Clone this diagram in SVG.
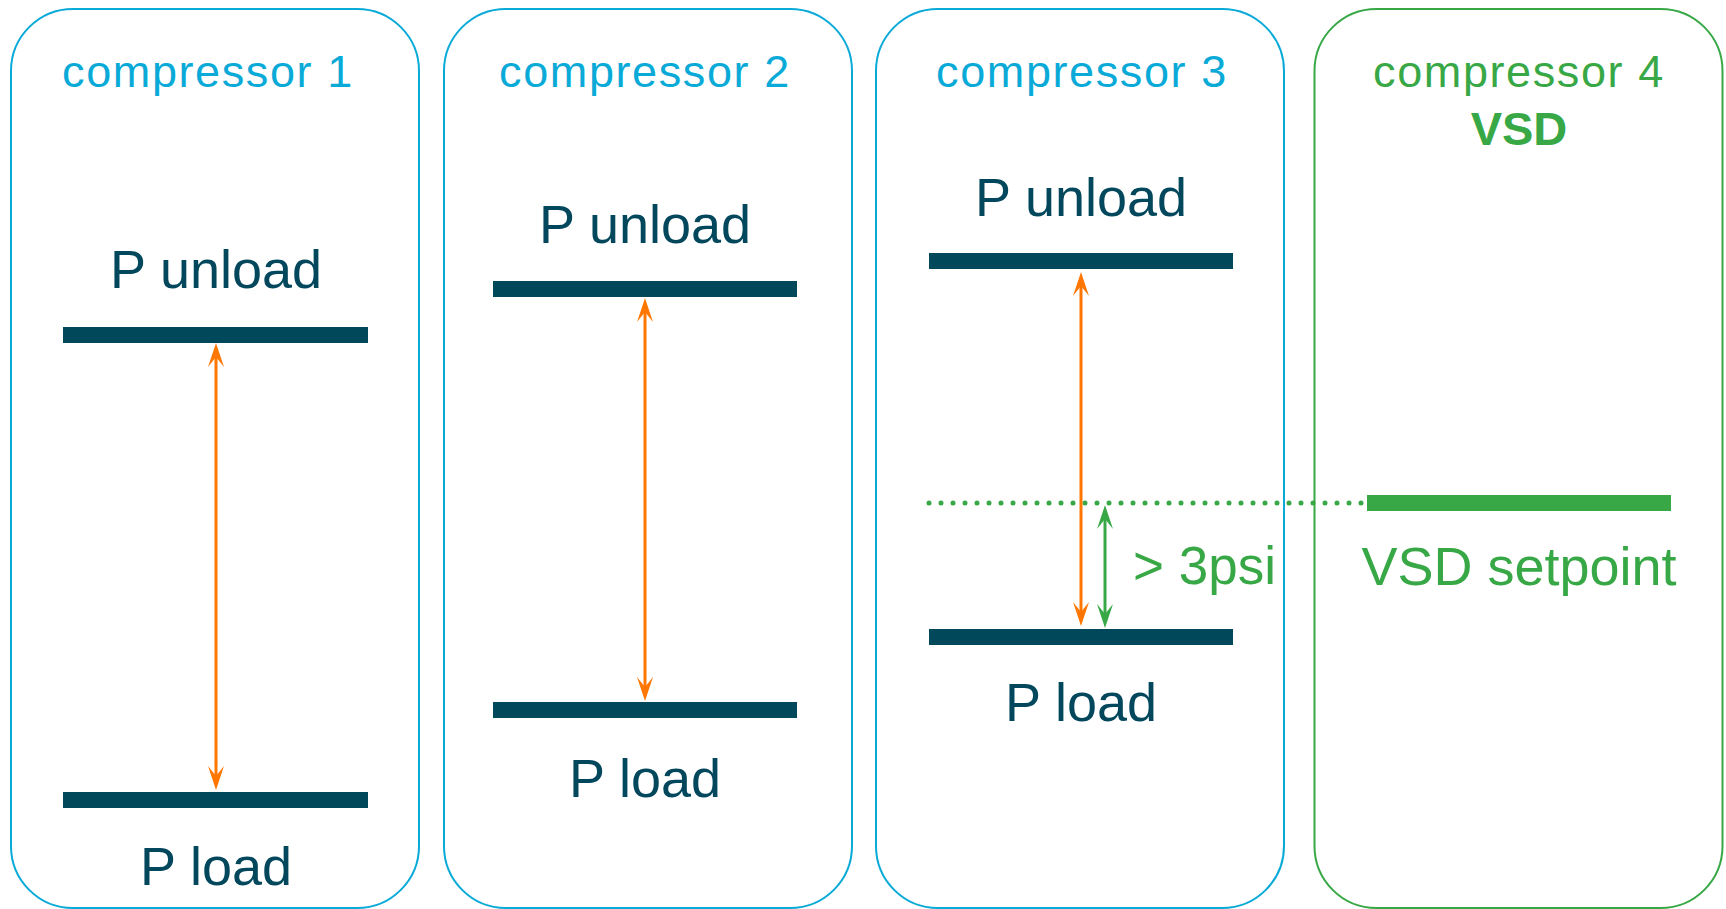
<svg xmlns="http://www.w3.org/2000/svg" width="1726" height="909" viewBox="0 0 1726 909">
<style>
.box{fill:#fff;stroke-width:2}
.blue{stroke:#0AAAD8}
.green{stroke:#38A846}
.title{font-family:"Liberation Sans",Arial,sans-serif;font-size:45px;letter-spacing:1.6px;text-anchor:middle}
.big{font-family:"Liberation Sans",Arial,sans-serif;font-size:54px;text-anchor:middle;fill:#02475C}
.bar{fill:#02485B}
.oline{stroke:#FF7700;stroke-width:3;fill:none}
.gline{stroke:#38A846;stroke-width:3;fill:none}
</style>
<defs>
<marker id="ao" viewBox="0 -8 24 16" refX="10" refY="0" markerWidth="24" markerHeight="16" markerUnits="userSpaceOnUse" orient="auto-start-reverse">
<path d="M0,-8 L24,0 L0,8 L10,0 Z" fill="#FF7700"/>
</marker>
<marker id="ag" viewBox="0 -8 24 16" refX="10" refY="0" markerWidth="24" markerHeight="16" markerUnits="userSpaceOnUse" orient="auto-start-reverse">
<path d="M0,-8 L24,0 L0,8 L10,0 Z" fill="#38A846"/>
</marker>
</defs>
<rect width="1726" height="909" fill="#fff"/>
<g id="compressor1">
<rect class="box blue" x="11" y="9" width="408" height="899" rx="62" ry="62"/>
<text class="title" x="208" y="87" fill="#0AAAD8">compressor 1</text>
<text class="big" x="216" y="288">P unload</text>
<rect class="bar" x="63" y="327" width="305" height="16"/>
<rect class="bar" x="63" y="792" width="305" height="16"/>
<text class="big" x="216" y="885">P load</text>
</g>
<g id="compressor2">
<rect class="box blue" x="444" y="9" width="408" height="899" rx="62" ry="62"/>
<text class="title" x="645" y="87" fill="#0AAAD8">compressor 2</text>
<text class="big" x="645" y="243">P unload</text>
<rect class="bar" x="493" y="281" width="304" height="16"/>
<rect class="bar" x="493" y="702" width="304" height="16"/>
<text class="big" x="645" y="797">P load</text>
</g>
<g id="compressor3">
<rect class="box blue" x="876" y="9" width="408" height="899" rx="62" ry="62"/>
<text class="title" x="1082" y="87" fill="#0AAAD8">compressor 3</text>
<text class="big" x="1081" y="216">P unload</text>
<rect class="bar" x="929" y="253" width="304" height="16"/>
<rect class="bar" x="929" y="629" width="304" height="16"/>
<text class="big" x="1081" y="721">P load</text>
</g>
<g id="compressor4">
<rect class="box green" x="1314.5" y="9" width="408" height="899" rx="62" ry="62"/>
<text class="title" x="1519" y="87" fill="#38A846">compressor 4</text>
<text x="1519" y="145" font-family="'Liberation Sans',Arial,sans-serif" font-size="47" font-weight="bold" text-anchor="middle" fill="#38A846">VSD</text>
<rect x="1367" y="495" width="304" height="16" fill="#38A846"/>
<text class="big" x="1519" y="585" style="fill:#38A846">VSD setpoint</text>
</g>
<g id="connectors">
<line x1="929" y1="503" x2="1363" y2="503" stroke="#38A846" stroke-width="5" stroke-linecap="round" stroke-dasharray="0 12"/>
<line class="oline" x1="216" y1="357" x2="216" y2="776" marker-start="url(#ao)" marker-end="url(#ao)"/>
<line class="oline" x1="645" y1="312" x2="645" y2="687" marker-start="url(#ao)" marker-end="url(#ao)"/>
<line class="oline" x1="1081" y1="286" x2="1081" y2="612" marker-start="url(#ao)" marker-end="url(#ao)"/>
<line class="gline" x1="1105" y1="519" x2="1105" y2="614" marker-start="url(#ag)" marker-end="url(#ag)"/>
<text x="1133" y="584" font-family="'Liberation Sans',Arial,sans-serif" font-size="53" fill="#38A846">&gt; 3psi</text>
</g>
</svg>
